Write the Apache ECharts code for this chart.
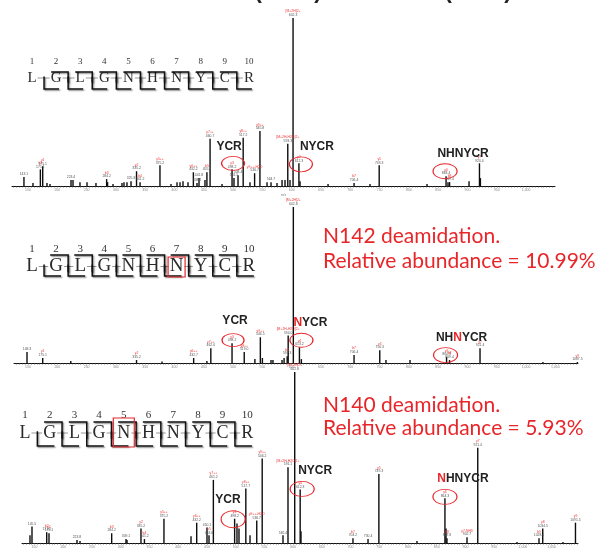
<!DOCTYPE html>
<html><head><meta charset="utf-8">
<script src="https://cdn.jsdelivr.net/npm/echarts@6/dist/echarts.min.js"></script>
<style>html,body{margin:0;padding:0;background:#fff}#c{width:596px;height:549px}</style>
</head><body><div id="c"></div>
<script>
// ---- data ----
const sequence = ['L','G','L','G','N','H','N','Y','C','R'];
const residueNumbers = ['1','2','3','4','5','6','7','8','9','10'];
const mzTickLabels = [150,200,250,300,350,400,450,500,550,600,650,700,750,800,850,900,950,1000,1050];
const titleParts = ['(N140)', '(N142)'];

// [m/z, relative intensity %, ion label (optional)]
const peaks1 = [
[143.1,5.3,''],[158.5,1.8],[171.1,9.9,'b2'],[175.1,11.7,'y1'],[182.4,1.8],[187.5,1.2],
[223.4,3.5,''],[226.8,3.5],[238.7,2.3],[250.7,2.3],[266.0,1.8],[284.2,4.1,'b3'],[285.8,2.3],[295.1,1.2],
[310.4,1.8],[313.8,2.3],[318.9,2.3],[325.8,2.9,''],[335.2,8.8,'y2'],[341.2,2.3,'b4'],[375.2,12.3,'y5++'],
[394.0,1.2],[404.3,2.3],[409.4,2.3],[414.5,2.9],[423.0,2.3],[432.2,8.2,'y6++'],[438.4,1.8,''],[441.8,4.7,''],
[452.0,3.5],[455.3,8.2,'b5'],[460.7,28.1,'y7++'],[481.1,1.2],[498.2,9.9,'y3'],[501.5,4.7,''],[508.4,6.4,''],
[517.2,28.7,'y8++'],[528.8,2.3],[536.7,7.6,'y9++-H2O'],[545.8,32.7,'y9++'],[557.9,2.3],[564.7,2.3,''],
[574.9,1.8],[583.5,3.5],[588.6,3.5],[593.3,25.1,'[M+2H-H2O]2+'],[597.1,3.5],[602.3,100,'[M+2H]2+'],
[612.3,13.5,'y4'],[614.2,2.9],[662.0,1.2],[706.4,1.8,'b7'],[733.6,1.2],[749.3,12.3,'y5'],[830.9,1.2],
[863.4,5.8,'y6'],[866.7,2.3],[869.4,2.3,'b8'],[902.6,2.9],[920.4,13.5,'y7'],[922.0,4.7]
];
const peaks2 = [
[148.3,7.0,''],[175.1,3.2,'y1'],[223.0,1.3],[335.2,1.9,'y2'],[378.7,1.0],[432.7,3.2,'y6++'],[455.3,1.3],
[462.0,9.5,'y7++'],[498.2,12.7,'y3'],[519.0,7.0,'y8++'],[537.2,2.5],[546.5,16.5,'y9++'],[550.0,3.2],
[564.7,1.9],[568.0,1.9],[583.5,1.9],[587.0,3.2],[592.3,4.4,'b6'],[594.0,17.7,'[M+2H-H2O]2+'],
[602.8,100,'[M+2H]2+'],[613.2,10.1,'y4'],[616.5,2.5],[706.4,5.1,'b7'],[750.3,8.2,'y5'],[760.9,1.9],
[801.9,1.9],[864.3,3.8,'y6'],[869.4,1.9,'b8'],[921.4,9.5,'y7'],[1028.8,0.6],[1087.5,0.6,'y9']
];
const peaks3 = [
[142.0,4.5],[145.5,9.7,''],[171.1,6.3,'b2'],[175.1,5.7,'y1'],[223.8,1.7,''],[229.1,1.1],[284.2,5.7,'b3'],
[309.1,2.3,''],[310.9,1.7],[335.2,8.5,'y2'],[341.2,2.3,'b4'],[375.2,14.2,'y5++'],[422.3,4.0],[432.2,11.9,'y6++'],
[450.1,9.1,''],[453.6,4.5,'b5'],[461.2,36.9,'y7++'],[498.2,14.2,'y3'],[502.3,11.4],[505.8,8.5],[517.7,31.8,'y8++'],
[525.0,4.5],[536.7,13.1,'y9++-H2O'],[546.2,49.4,'y9++'],[582.4,4.5,''],[591.1,44.3,'[M+2H-H2O]2+'],
[602.8,100,'[M+2H]2+'],[612.3,31.3,'y4'],[613.7,6.8],[704.2,2.8,'b7'],[730.4,2.3,''],[749.3,40.3,'y5'],
[815.6,1.1],[864.3,26.1,'y6'],[866.1,8.5],[867.8,2.8,'b8'],[902.7,3.4,'y7-NH3'],[921.4,55.7,'y7'],
[989.7,0.6],[1028.0,2.8,'b9'],[1034.5,8.5,'y8'],[1069.8,0.6],[1091.5,11.9,'y9']
];

// annotated fragments: [m/z of peak, intensity, fragment text, index of red (deamidated) residue or -1]
const fragments1 = [[498.2,9.9,'YCR',-1],[612.3,13.5,'NYCR',-1],[863.4,5.8,'NHNYCR',-1]];
const fragments2 = [[498.2,12.7,'YCR',-1],[613.2,10.1,'NYCR',0],[864.3,3.8,'NHNYCR',2]];
const fragments3 = [[498.2,14.2,'YCR',-1],[612.3,31.3,'NYCR',-1],[864.3,26.1,'NHNYCR',0]];

const deamidationNotes2 = ['N142 deamidation.', 'Relative abundance = 10.99%'];
const deamidationNotes3 = ['N140 deamidation.', 'Relative abundance = 5.93%'];
const modifiedResidue2 = 7;
const modifiedResidue3 = 5;

// ---- styling / layout ----
const RED = '#e8262a';
const chart = echarts.init(document.getElementById('c'), null, {renderer:'canvas'});

const minorTicks = [];
for (let v = 125; v <= 1095; v += 5) minorTicks.push(v);

function xAxisCfg(i, min, max, showName) {
  return {
    type:'value', gridIndex:i, min:min, max:max,
    axisLine:{show:true, lineStyle:{color:'#111', width:1}},
    axisTick:{show:true, length:1.6, customValues:minorTicks, lineStyle:{color:'#444', width:0.6}},
    axisLabel:{show:true, customValues:mzTickLabels, fontSize:3.5, color:'#888', margin:2, fontFamily:'Liberation Sans'},
    splitLine:{show:false},
    name: showName ? 'm/z' : '', nameLocation:'middle', nameGap:6,
    nameTextStyle:{fontSize:3.5, color:'#888'}
  };
}
function yAxisCfg(i) {
  return {type:'value', gridIndex:i, min:0, max:100, show:false};
}

const richTiny = {
  r:{color:'#ee3333', fontSize:3.4, lineHeight:3.8, fontFamily:'Liberation Sans'},
  k:{color:'#555', fontSize:3.4, lineHeight:3.8, fontFamily:'Liberation Sans'}
};
const richBold = {
  k:{color:'#222', fontSize:12, fontWeight:'bold', fontFamily:'Liberation Sans'},
  r:{color:RED, fontSize:12, fontWeight:'bold', fontFamily:'Liberation Sans'}
};

function fragText(s, redIdx) {
  if (redIdx < 0) return '{k|' + s + '}';
  let out = '';
  if (redIdx > 0) out += '{k|' + s.slice(0, redIdx) + '}';
  out += '{r|' + s[redIdx] + '}';
  if (redIdx < s.length - 1) out += '{k|' + s.slice(redIdx + 1) + '}';
  return out;
}

const ellipse = 'path://M0,1A1,1,0,1,1,2,1A1,1,0,1,1,0,1Z';

function makeSeries(i, peaks, frags, circleLayout, textLayout) {
  const mp = [];
  frags.forEach((f, j) => {
    mp.push({coord:[f[0], f[1]], symbol:ellipse, symbolSize:circleLayout[j].size,
      symbolOffset:circleLayout[j].off,
      itemStyle:{color:'rgba(0,0,0,0)', borderColor:RED, borderWidth:1},
      label:{show:false}});
    mp.push({coord:[f[0], f[1]], symbol:'circle', symbolSize:1,
      itemStyle:{color:'rgba(0,0,0,0)'},
      label:{show:true, position:'inside', offset:textLayout[j], formatter:fragText(f[2], f[3]), rich:richBold}});
  });
  return {
    type:'bar', xAxisIndex:i, yAxisIndex:i, barWidth:1.4, silent:true, animation:false,
    itemStyle:{color:'#0d0d0d'},
    data: peaks.map(p => ({
      value:[p[0], p[1]],
      label: p.length > 2 ? {show:true, position:'top', distance:0.8,
        formatter: (p[2] ? '{r|' + p[2] + '}\n' : '') + '{k|' + p[0].toFixed(1) + '}', rich:richTiny} : {show:false}
    })),
    markPoint:{silent:true, animation:false, data:mp}
  };
}

// peptide fragment map drawn as graphic elements
function peptide(cfg) {
  const els = [];
  const n = sequence.length;
  const xs = sequence.map((_, i) => cfg.x0 + i * cfg.step);
  els.push({type:'line', shape:{x1:xs[0], y1:cfg.yMid, x2:xs[n-1], y2:cfg.yMid},
    style:{stroke:'#999', lineWidth:1}, z:1});
  sequence.forEach((s, i) => {
    els.push({type:'text', x:xs[i], y:cfg.yMid, z:2,
      style:{text:s, font:cfg.font + 'px "Liberation Serif"', fill:'#2a2a2a', align:'center', verticalAlign:'middle',
        backgroundColor:'#fff', padding:[0,1]}});
    els.push({type:'text', x:xs[i], y:cfg.yNum, z:2,
      style:{text:residueNumbers[i], font:cfg.numFont + 'px "Liberation Serif"', fill:'#333', align:'center', verticalAlign:'middle'}});
  });
  const lineStyle = {stroke:'#111', lineWidth:1.5, fill:null, shadowBlur:1.5, shadowColor:'rgba(0,0,0,0.45)', shadowOffsetX:1.2, shadowOffsetY:1.2};
  for (let i = 0; i < n - 1; i++) {
    const c = (xs[i] + xs[i+1]) / 2;
    if (i > 0) {
      els.push({type:'polyline', z:3, shape:{points:[[c - cfg.hookT, cfg.yTop],[c, cfg.yTop],[c, cfg.yMid + cfg.font*0.3]]}, style:lineStyle});
    }
    els.push({type:'polyline', z:3, shape:{points:[[c, cfg.yMid - cfg.font*0.1],[c, cfg.yBot],[c + cfg.hookB, cfg.yBot]]}, style:lineStyle});
  }
  if (cfg.box) {
    const bx = xs[cfg.box - 1];
    els.push({type:'rect', z:4, shape:{x:bx - cfg.boxW/2, y:cfg.boxY, width:cfg.boxW, height:cfg.boxH},
      style:{fill:null, stroke:RED, lineWidth:1.2}});
  }
  return els;
}

const graphics = [].concat(
  peptide({x0:32, step:24.1, yNum:62, yMid:78, yTop:72, yBot:89, font:15, numFont:9, hookT:17, hookB:15}),
  peptide({x0:32, step:24.1, yNum:249, yMid:266.5, yTop:255, yBot:276, font:19, numFont:11, hookT:18, hookB:17,
    box:modifiedResidue2, boxW:17, boxY:257, boxH:20}),
  peptide({x0:25, step:24.7, yNum:415, yMid:433, yTop:422, yBot:446, font:18, numFont:11, hookT:18, hookB:17,
    box:modifiedResidue3, boxW:21, boxY:418, boxH:29}),
  [
    {type:'text', x:323, y:236, style:{text:deamidationNotes2[0], font:'21px Lato', fill:RED, align:'left', verticalAlign:'middle'}},
    {type:'text', x:323, y:261, style:{text:deamidationNotes2[1], font:'21px Lato', fill:RED, align:'left', verticalAlign:'middle'}},
    {type:'text', x:323, y:405, style:{text:deamidationNotes3[0], font:'21px Lato', fill:RED, align:'left', verticalAlign:'middle'}},
    {type:'text', x:323, y:428, style:{text:deamidationNotes3[1], font:'21px Lato', fill:RED, align:'left', verticalAlign:'middle'}},
    {type:'text', x:288, y:-8.5, style:{text:titleParts[0], font:'bold 22px "Liberation Sans"', fill:'#222', align:'center', verticalAlign:'middle'}},
    {type:'text', x:478, y:-8.5, style:{text:titleParts[1], font:'bold 22px "Liberation Sans"', fill:'#222', align:'center', verticalAlign:'middle'}}
  ]
);

chart.setOption({
  animation:false,
  backgroundColor:'#fff',
  grid:[
    {left:12, right:41, top:18, bottom:363},
    {left:14, right:18, top:207, bottom:186},
    {left:22, right:18, top:372, bottom:1}
  ],
  xAxis:[xAxisCfg(0, 122.7, 1049.3, true), xAxisCfg(1, 126.1, 1088.6, false), xAxisCfg(2, 128.1, 1095.9, false)],
  yAxis:[yAxisCfg(0), yAxisCfg(1), yAxisCfg(2)],
  series:[
    makeSeries(0, peaks1, fragments1,
      [{size:[23,14], off:[1,-6]},{size:[23,15], off:[2,1]},{size:[24,15], off:[-1,-5]}],
      [[-3,-23],[18,-17],[17,-23]]),
    makeSeries(1, peaks2, fragments2,
      [{size:[22,13], off:[1,-3]},{size:[23,14], off:[2,-7]},{size:[24,15], off:[-1,-2]}],
      [[3,-23],[11,-25],[15,-19]]),
    makeSeries(2, peaks3, fragments3,
      [{size:[24,17], off:[-1.5,0.5]},{size:[24,15], off:[2,-0.5]},{size:[24,15], off:[0,-1.5]}],
      [[-6.6,-19.5],[15,-18.5],[18,-20]])
  ],
  graphic:{elements:graphics}
});
</script>
</body></html>
